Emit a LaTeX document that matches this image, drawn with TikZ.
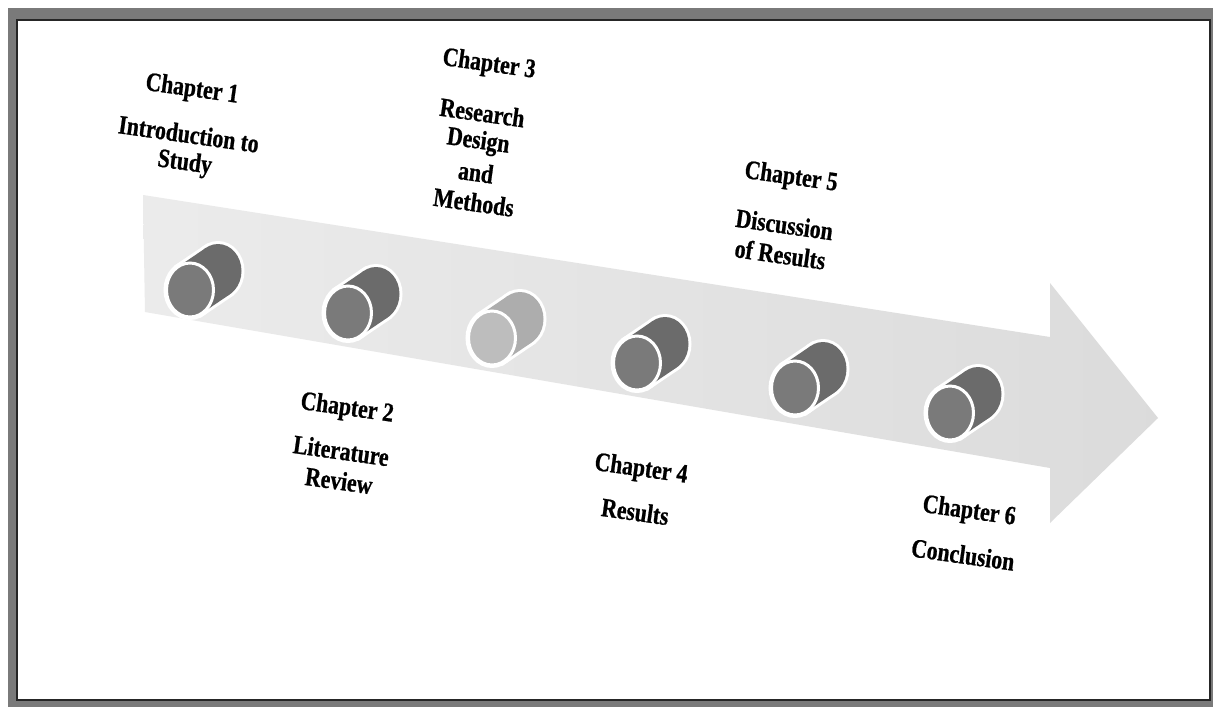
\documentclass[tikz,border=0pt]{standalone}
\usepackage{fontspec}
\usepackage{tikz}
\usetikzlibrary{positioning}
\newfontfamily\chapfont{Liberation Serif}[FakeStretch=0.82, BoldFeatures={FakeBold=0.8}]
\definecolor{arrowgray}{gray}{0.86}
\definecolor{darkface}{gray}{0.48}
\definecolor{darkbody}{gray}{0.42}
\definecolor{lightface}{gray}{0.74}
\definecolor{lightbody}{gray}{0.68}

% one cylinder: position, body colour, face colour
\newcommand{\cyl}[3]{%
	\begin{scope}[shift={(#1)}]
	\draw[white, line width=6pt] (28,-19) ellipse [x radius=23.5, y radius=27];
	\draw[white, line width=6pt] (11.7,23.4) -- (39.7,4.4) -- (16.3,-42.4) -- (-11.7,-23.4) -- cycle;
	\draw[white, line width=6pt] (0,0) ellipse [x radius=23.5, y radius=27];
	\fill[#2] (28,-19) ellipse [x radius=23.5, y radius=27];
	\fill[#2] (11.7,23.4) -- (39.7,4.4) -- (16.3,-42.4) -- (-11.7,-23.4) -- cycle;
	\filldraw[fill=#3, draw=white, line width=3pt] (0,0) ellipse [x radius=23.5, y radius=27];
	\end{scope}}

\begin{document}
\begin{tikzpicture}[x=1pt, y=-1pt, node distance=30pt,
	chap/.style={font=\chapfont\bfseries\fontsize{26.5}{30}\selectfont, rotate=-8, inner sep=0pt}]
	\useasboundingbox (0,0) rectangle (1213,707);
	% frame
	\fill[black!52] (8,8) rectangle (1213,707);
	\fill[white] (17,20) rectangle (1210,700);
	\draw[black!85, line width=1.2pt] (17,20) rectangle (1210,700);

	% big arrow
	\coordinate (tail) at (143,195);
	\coordinate (tip) at (1158,418);
	\shade[left color=arrowgray!55, right color=arrowgray] (tail) -- (1050,337) -- (1050,283) -- (tip) -- (1050,523) -- (1050,468) -- (145,312) -- cycle;

	% cylinders
	\coordinate (c1) at (190,290);
	\coordinate (c2) at (348,313);
	\coordinate (c3) at (492,338);
	\coordinate (c4) at (637,363);
	\coordinate (c5) at (795,388);
	\coordinate (c6) at (950,413);
	\cyl{c1}{darkbody}{darkface}
	\cyl{c2}{darkbody}{darkface}
	\cyl{c3}{lightbody}{lightface}
	\cyl{c4}{darkbody}{darkface}
	\cyl{c5}{darkbody}{darkface}
	\cyl{c6}{darkbody}{darkface}

	% chapter labels
	\node[chap] (ch1) at (192,90) {Chapter 1};
	\node[chap, below of=ch1, yshift=-14pt, xshift=3pt] (ch1a) {Introduction to};
	\node[chap, below of=ch1a] (ch1b) {Study};

	\node[chap] (ch2) at (347,409) {Chapter 2};
	\node[chap, below of=ch2, yshift=-12pt] (ch2a) {Literature};
	\node[chap, below of=ch2a, xshift=2pt] (ch2b) {Review};

	\node[chap] (ch3) at (489,65) {Chapter 3};
	\node[chap, below of=ch3, yshift=-18pt] (ch3a) {Research};
	\node[chap, below of=ch3a] (ch3b) {Design};
	\node[chap, below of=ch3b, xshift=2pt] (ch3c) {and};
	\node[chap, below of=ch3c, xshift=2pt] (ch3d) {Methods};

	\node[chap] (ch4) at (641,470) {Chapter 4};
	\node[chap, below of=ch4, yshift=-12pt] (ch4a) {Results};

	\node[chap] (ch5) at (791,178) {Chapter 5};
	\node[chap, below of=ch5, yshift=-17pt] (ch5a) {Discussion};
	\node[chap, below of=ch5a] (ch5b) {of Results};

	\node[chap] (ch6) at (969,512) {Chapter 6};
	\node[chap, below of=ch6, yshift=-13pt] (ch6a) {Conclusion};
\end{tikzpicture}
\end{document}
